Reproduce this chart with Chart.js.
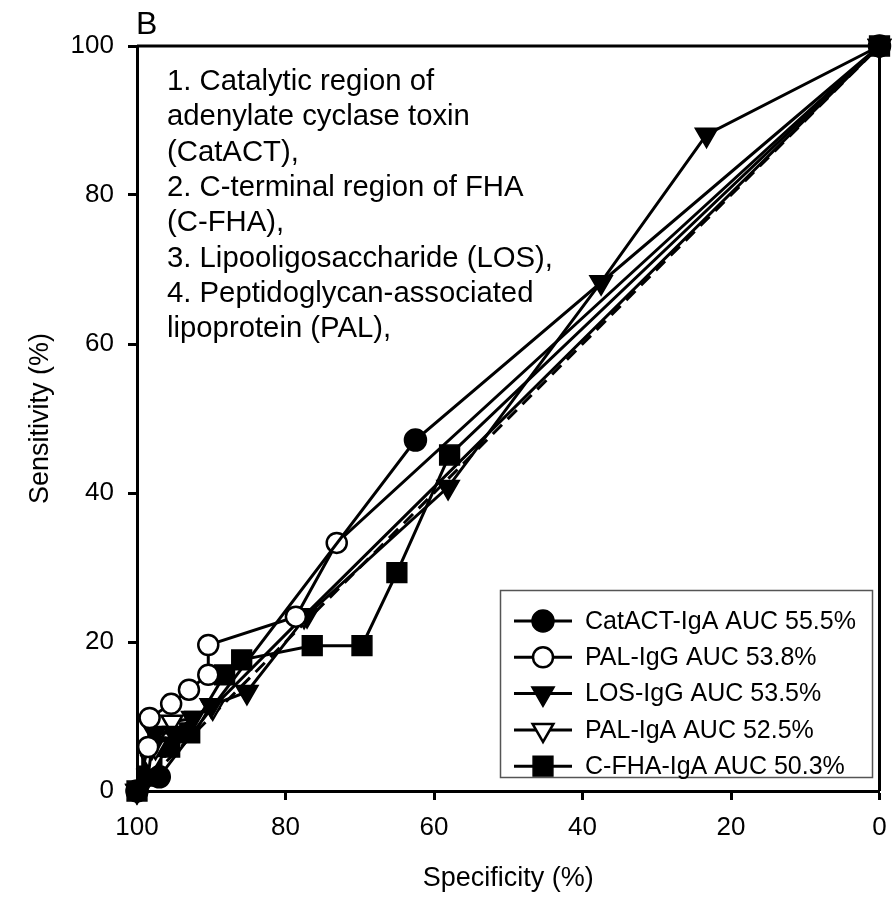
<!DOCTYPE html>
<html>
<head>
<meta charset="utf-8">
<script src="https://cdn.jsdelivr.net/npm/chart.js@4.4.1/dist/chart.umd.min.js"></script>
<style>
  body { margin: 0; background: #fff; }
  #wrap { width: 895px; height: 898px; }
</style>
</head>
<body>
<div id="wrap"><canvas id="roc" width="895" height="898"></canvas></div>
<script>
// ROC points, specificity (%) and sensitivity (%)
const catactSpec = [100, 97, 62.5, 0];
const catactSens = [0, 1.9, 47.1, 100];

const palIgGSpec = [100, 98.5, 98.3, 95.4, 93, 90.4, 90.4, 78.6, 73.1, 0];
const palIgGSens = [0, 5.9, 9.8, 11.7, 13.6, 15.6, 19.6, 23.4, 33.3, 100];

const losSpec = [100, 98.5, 98, 97.6, 95, 92.5, 90, 85.2, 77.1, 58.1, 37.5, 23.3, 0];
const losSens = [0, 2, 5.9, 7.8, 7.8, 9.8, 11.5, 13.3, 23.6, 40.8, 68.3, 88.1, 100];

const palIgASpec = [100, 98, 97.5, 95.3, 92, 89.8, 77.5, 0];
const palIgASens = [0, 3.9, 5.9, 9.3, 9.8, 11.2, 23.5, 100];

const cfhaSpec = [100, 98.5, 98, 97.5, 95.6, 92.9, 88.2, 85.9, 76.4, 69.7, 65, 57.9, 0];
const cfhaSens = [0, 2, 3.9, 5.9, 5.9, 7.8, 15.6, 17.6, 19.5, 19.5, 29.3, 45.1, 100];

const refSpec = [100, 0];
const refSens = [0, 100];

const seriesLabels = ['CatACT-IgA AUC 55.5%', 'PAL-IgG AUC 53.8%', 'LOS-IgG AUC 53.5%', 'PAL-IgA AUC 52.5%', 'C-FHA-IgA AUC 50.3%'];
const xTicks = [100, 80, 60, 40, 20, 0];
const yTicks = [0, 20, 40, 60, 80, 100];

const noteLines = [
    '1. Catalytic region of',
    'adenylate cyclase toxin',
    '(CatACT),',
    '2. C-terminal region of FHA',
    '(C-FHA),',
    '3. Lipooligosaccharide (LOS),',
    '4. Peptidoglycan-associated',
    'lipoprotein (PAL),'
];

const FONT = '"Liberation Sans", Arial, Helvetica, sans-serif';

const toPoints = (xs, ys) => xs.map((x, i) => ({ x: x, y: ys[i] }));

// marker styles shared by plot and legend
const markers = [
    { pointStyle: 'circle', radius: 11, rotation: 0, fill: '#000', borderWidth: 1.5 },
    { pointStyle: 'circle', radius: 10, rotation: 0, fill: '#fff', borderWidth: 2.5 },
    { pointStyle: 'triangle', radius: 13, rotation: 180, fill: '#000', borderWidth: 1.5 },
    { pointStyle: 'triangle', radius: 12, rotation: 180, fill: '#fff', borderWidth: 2.5 },
    { pointStyle: 'rect', radius: 14, rotation: 0, fill: '#000', borderWidth: 1.5 }
];

const seriesData = [
    toPoints(catactSpec, catactSens),
    toPoints(palIgGSpec, palIgGSens),
    toPoints(losSpec, losSens),
    toPoints(palIgASpec, palIgASens),
    toPoints(cfhaSpec, cfhaSens)
];

const datasets = seriesData.map((pts, i) => ({
    label: seriesLabels[i],
    data: pts,
    showLine: true,
    borderColor: '#000',
    borderWidth: 3,
    pointStyle: markers[i].pointStyle,
    pointRadius: markers[i].radius,
    pointRotation: markers[i].rotation,
    pointBackgroundColor: markers[i].fill,
    pointBorderColor: '#000',
    pointBorderWidth: markers[i].borderWidth,
    pointHoverRadius: markers[i].radius,
    clip: false
}));

datasets.push({
    label: 'reference',
    data: toPoints(refSpec, refSens),
    showLine: true,
    borderColor: '#000',
    borderWidth: 3,
    borderDash: [13, 8],
    pointRadius: 0,
    order: 10
});

// frame, panel letter, notes and boxed legend
const decorations = {
    id: 'decorations',
    afterDraw(chart) {
        const ctx = chart.ctx;
        const area = chart.chartArea;
        ctx.save();

        ctx.strokeStyle = '#000';
        ctx.lineWidth = 3;
        ctx.beginPath();
        ctx.moveTo(area.left, area.top);
        ctx.lineTo(area.right, area.top);
        ctx.lineTo(area.right, area.bottom);
        ctx.stroke();

        ctx.fillStyle = '#000';
        ctx.textAlign = 'left';
        ctx.textBaseline = 'alphabetic';
        ctx.font = '32px ' + FONT;
        ctx.fillText('B', 136, 34);

        ctx.font = '29.3px ' + FONT;
        noteLines.forEach((line, i) => ctx.fillText(line, 167, 90 + i * 35.3));

        // legend box
        ctx.strokeStyle = '#555';
        ctx.lineWidth = 1.5;
        ctx.strokeRect(500.5, 590.5, 372, 187);

        ctx.font = '25px ' + FONT;
        ctx.textBaseline = 'middle';
        seriesLabels.forEach((label, i) => {
            const y = 621 + i * 36.3;
            ctx.strokeStyle = '#000';
            ctx.lineWidth = 3;
            ctx.beginPath();
            ctx.moveTo(514, y);
            ctx.lineTo(572, y);
            ctx.stroke();
            const m = markers[i];
            ctx.fillStyle = m.fill;
            ctx.lineWidth = m.borderWidth;
            Chart.helpers.drawPoint(ctx, { pointStyle: m.pointStyle, rotation: m.rotation, radius: m.radius, borderWidth: m.borderWidth }, 543, y);
            ctx.fillStyle = '#000';
            ctx.fillText(label, 585, y + 1);
        });
        ctx.restore();
    }
};

new Chart(document.getElementById('roc'), {
    type: 'scatter',
    data: { datasets: datasets },
    options: {
        responsive: false,
        animation: false,
        layout: { padding: { top: 46, right: 15, left: 0, bottom: 0 } },
        plugins: {
            legend: { display: false },
            tooltip: { enabled: false }
        },
        scales: {
            x: {
                type: 'linear',
                min: 0,
                max: 100,
                reverse: true,
                afterFit: (scale) => {
                    scale.height = 107;
                    scale.paddingLeft = 0;
                    scale.paddingRight = 0;
                },
                afterBuildTicks: (scale) => { scale.ticks = xTicks.map(v => ({ value: v })); },
                border: { display: true, color: '#000', width: 3 },
                grid: { drawOnChartArea: false, drawTicks: true, tickLength: 9, tickWidth: 3, tickColor: '#000' },
                ticks: { color: '#000', padding: 12, font: { family: FONT, size: 26 }, maxRotation: 0 },
                title: { display: true, text: 'Specificity (%)', color: '#000', font: { family: FONT, size: 27 }, padding: { top: 0, bottom: 3 } }
            },
            y: {
                type: 'linear',
                min: 0,
                max: 100,
                afterFit: (scale) => {
                    scale.width = 137;
                    scale.paddingTop = 0;
                    scale.paddingBottom = 0;
                },
                afterBuildTicks: (scale) => { scale.ticks = yTicks.map(v => ({ value: v })); },
                border: { display: true, color: '#000', width: 3 },
                grid: { drawOnChartArea: false, drawTicks: true, tickLength: 9, tickWidth: 3, tickColor: '#000' },
                ticks: { color: '#000', padding: 14, font: { family: FONT, size: 26 } },
                title: { display: true, text: 'Sensitivity (%)', color: '#000', font: { family: FONT, size: 27 }, padding: { top: 24, bottom: 0 } }
            }
        }
    },
    plugins: [decorations]
});
</script>
</body>
</html>
